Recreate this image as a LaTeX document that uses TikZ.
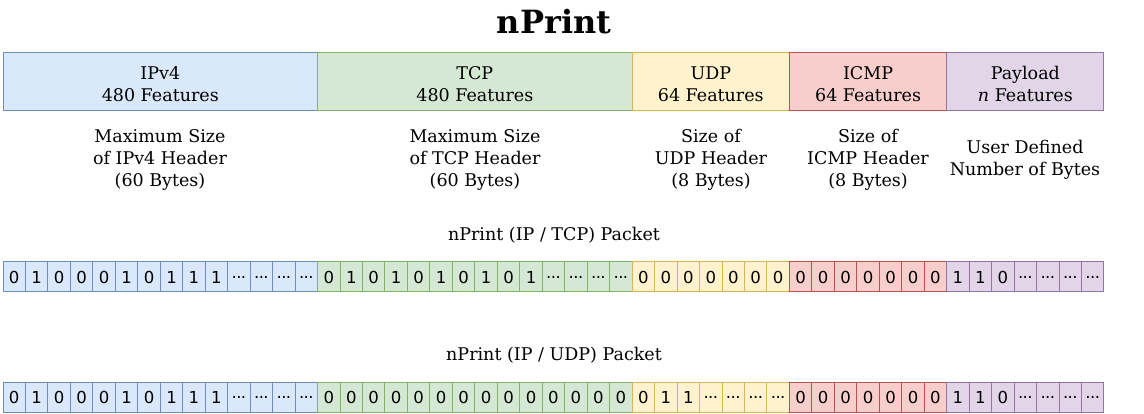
\documentclass[tikz,border=0pt]{standalone}
\usepackage{fontspec}
\setmainfont{DejaVu Serif}
\newfontfamily\bitfont{DejaVu Sans}
\definecolor{bluef}{HTML}{DAE8FC}\definecolor{blued}{HTML}{6C8EBF}
\definecolor{greenf}{HTML}{D5E8D4}\definecolor{greend}{HTML}{82B366}
\definecolor{yellowf}{HTML}{FFF2CC}\definecolor{yellowd}{HTML}{D6B656}
\definecolor{redf}{HTML}{F8CECC}\definecolor{redd}{HTML}{B85450}
\definecolor{purplef}{HTML}{E1D5E7}\definecolor{purpled}{HTML}{9673A6}
\tikzset{
  seg/.style={rectangle, line width=1pt, inner sep=0pt, outer sep=0pt, minimum height=58pt, anchor=north west},
  segtext/.style={align=center, inner sep=0pt, font=\fontsize{17.5}{21.5}\selectfont},
  cell/.style={rectangle, line width=1pt, inner sep=0pt, outer sep=0pt, minimum width=22.469pt, minimum height=30pt, font=\fontsize{16.5}{18}\bitfont\selectfont},
  desc/.style={align=center, inner sep=0pt, font=\fontsize{17.5}{21.8}\selectfont},
  plabel/.style={inner sep=0pt, font=\fontsize{17.5}{21.5}\selectfont},
  cblue/.style={fill=bluef, draw=blued},
  cgreen/.style={fill=greenf, draw=greend},
  cyellow/.style={fill=yellowf, draw=yellowd},
  cred/.style={fill=redf, draw=redd},
  cpurple/.style={fill=purplef, draw=purpled},
}
\def\cw{22.469}
\def\dd{.\kern-0.6pt.\kern-0.6pt.}
\begin{document}
\begin{tikzpicture}[x=1pt,y=-1pt]
\useasboundingbox (0,0) rectangle (1144,414);
\node[font=\bfseries\fontsize{32}{36}\selectfont, inner sep=0pt] (title) at (554,22) {nPrint};
% top bar
\node[seg, cblue, minimum width=314.566pt] (ipv4) at (3,53) {};
\node[seg, cgreen, minimum width=314.566pt] (tcp) at (317.566,53) {};
\node[seg, cyellow, minimum width=157.283pt] (udp) at (632.132,53) {};
\node[seg, cred, minimum width=157.283pt] (icmp) at (789.415,53) {};
\node[seg, cpurple, minimum width=157.283pt] (payload) at (946.698,53) {};
\node[segtext] (ipv4t) at ([yshift=-2pt]ipv4.center) {IPv4\\480 Features};
\node[segtext] (tcpt) at ([yshift=-2pt]tcp.center) {TCP\\480 Features};
\node[segtext] (udpt) at ([yshift=-2pt]udp.center) {UDP\\64 Features};
\node[segtext] (icmpt) at ([yshift=-2pt]icmp.center) {ICMP\\64 Features};
\node[segtext] (payloadt) at ([yshift=-2pt]payload.center) {Payload\\\textit{n} Features};
% descriptions
\node[desc] (d1) at (160,160) {Maximum Size\\of IPv4 Header\\(60 Bytes)};
\node[desc] (d2) at (475,160) {Maximum Size\\of TCP Header\\(60 Bytes)};
\node[desc] (d3) at (711,160) {Size of\\UDP Header\\(8 Bytes)};
\node[desc] (d4) at (868,160) {Size of\\ICMP Header\\(8 Bytes)};
\node[desc] (d5) at (1025,160) {User Defined\\Number of Bytes};
% packet labels
\node[plabel] (p1) at (554,235) {nPrint (IP / TCP) Packet};
\node[plabel] (p2) at (554,355) {nPrint (IP / UDP) Packet};
% row 1
\foreach \v [count=\i from 0] in {0,1,0,0,0,1,0,1,1,1,\dd,\dd,\dd,\dd}
  \node[cell, cblue] (a\i) at ({3+(\i+0.5)*\cw},277) {\v};
\foreach \v [count=\i from 14] in {0,1,0,1,0,1,0,1,0,1,\dd,\dd,\dd,\dd}
  \node[cell, cgreen] (a\i) at ({3+(\i+0.5)*\cw},277) {\v};
\foreach \v [count=\i from 28] in {0,0,0,0,0,0,0}
  \node[cell, cyellow] (a\i) at ({3+(\i+0.5)*\cw},277) {\v};
\foreach \v [count=\i from 35] in {0,0,0,0,0,0,0}
  \node[cell, cred] (a\i) at ({3+(\i+0.5)*\cw},277) {\v};
\foreach \v [count=\i from 42] in {1,1,0,\dd,\dd,\dd,\dd}
  \node[cell, cpurple] (a\i) at ({3+(\i+0.5)*\cw},277) {\v};
% row 2
\foreach \v [count=\i from 0] in {0,1,0,0,0,1,0,1,1,1,\dd,\dd,\dd,\dd}
  \node[cell, cblue] (b\i) at ({3+(\i+0.5)*\cw},397) {\v};
\foreach \v [count=\i from 14] in {0,0,0,0,0,0,0,0,0,0,0,0,0,0}
  \node[cell, cgreen] (b\i) at ({3+(\i+0.5)*\cw},397) {\v};
\foreach \v [count=\i from 28] in {0,1,1,\dd,\dd,\dd,\dd}
  \node[cell, cyellow] (b\i) at ({3+(\i+0.5)*\cw},397) {\v};
\foreach \v [count=\i from 35] in {0,0,0,0,0,0,0}
  \node[cell, cred] (b\i) at ({3+(\i+0.5)*\cw},397) {\v};
\foreach \v [count=\i from 42] in {1,1,0,\dd,\dd,\dd,\dd}
  \node[cell, cpurple] (b\i) at ({3+(\i+0.5)*\cw},397) {\v};
\end{tikzpicture}
\end{document}
